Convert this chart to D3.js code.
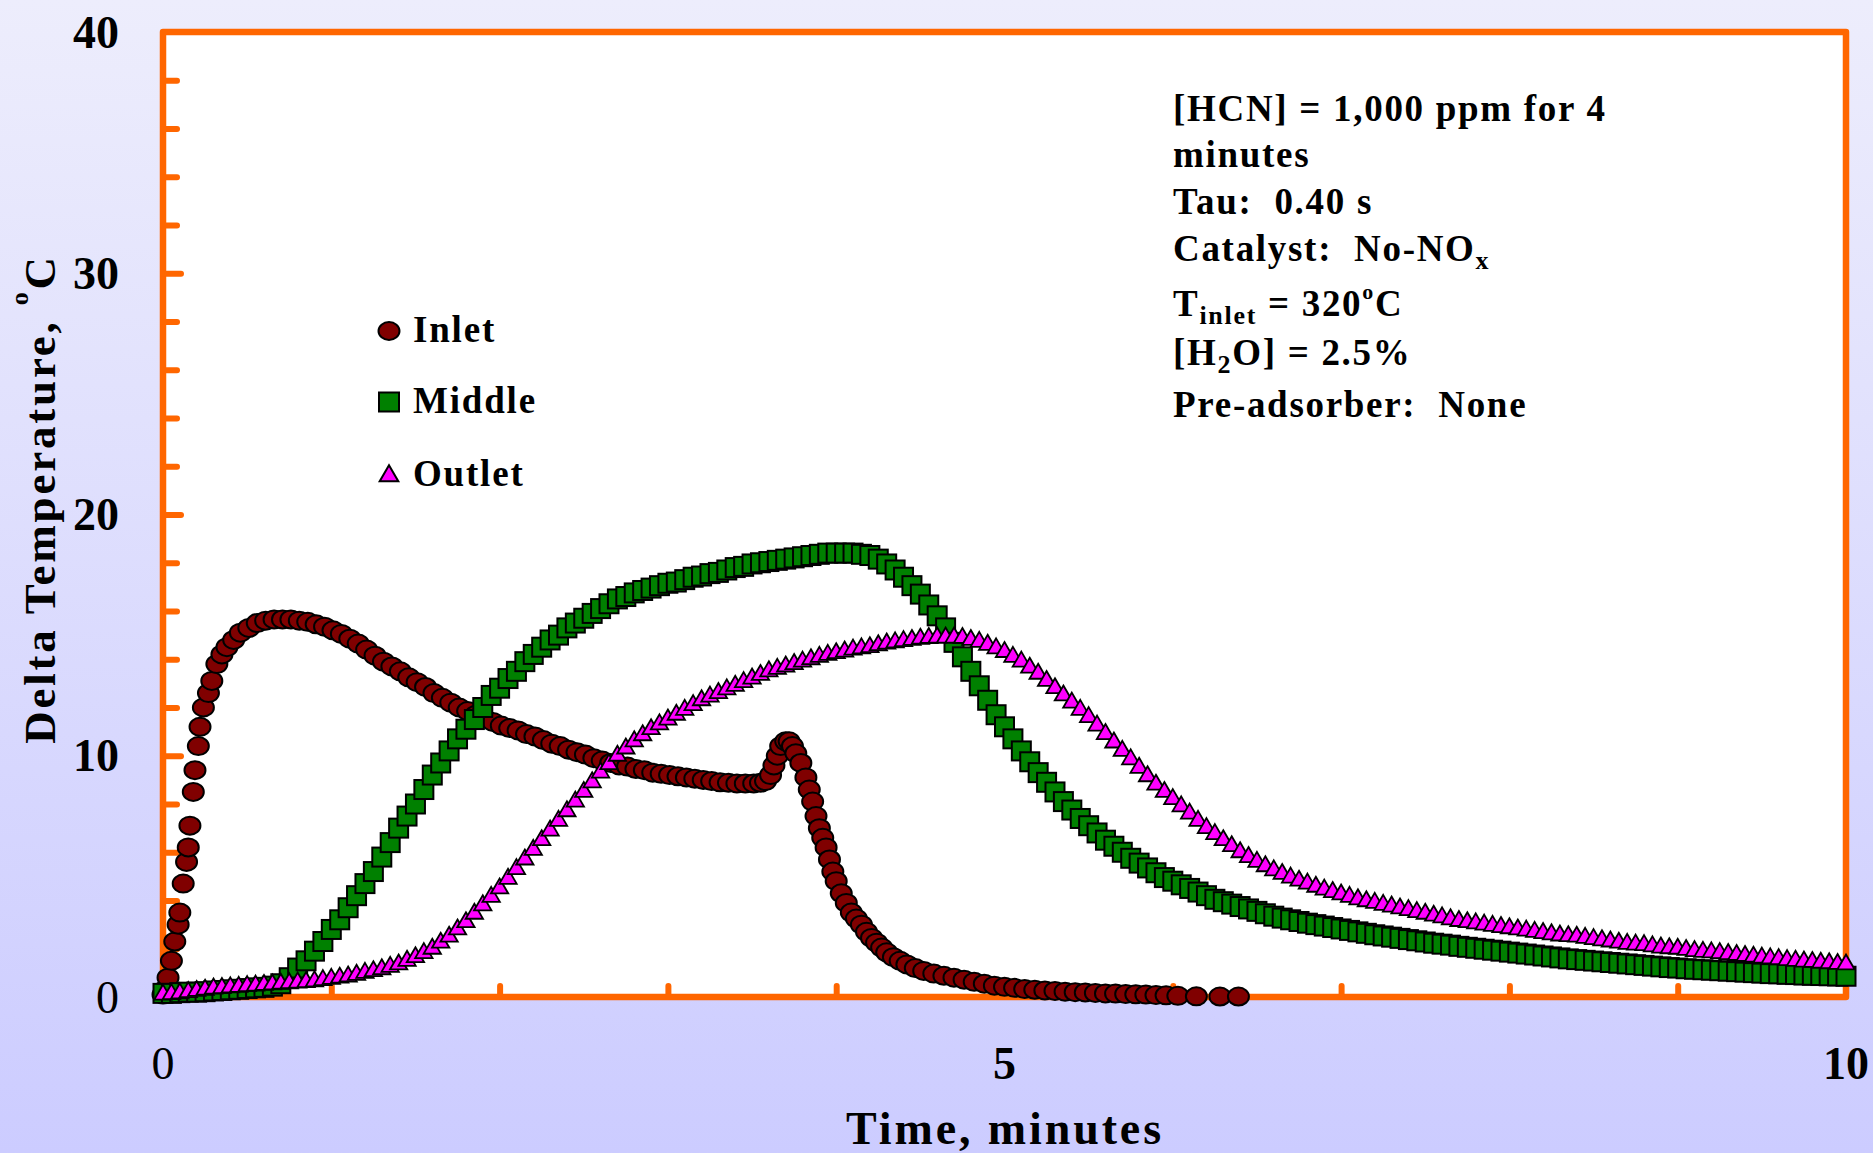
<!DOCTYPE html>
<html>
<head>
<meta charset="utf-8">
<script src="https://cdn.jsdelivr.net/npm/d3@7"></script>
<style>
  html, body { margin: 0; padding: 0; }
  svg text { font-family: "Liberation Serif", "Times New Roman", serif; font-weight: bold; fill: #000; white-space: pre; }
</style>
</head>
<body>
<svg id="chart" width="1873" height="1153"></svg>
<script>
// ---- data (minutes, delta temperature in C) ----
// middle + outlet were logged on the same 3 s grid
const gridTime = d3.range(0, 201).map(i => i / 20);

const middleTemp = [
  0.15,0.15,0.18,0.2,0.2,0.22,0.25,0.27,0.3,0.32,0.35,0.38,0.4,0.45,0.55,0.8,1.2,1.5,1.9,2.3,
  2.8,3.2,3.7,4.2,4.7,5.2,5.8,6.4,7.0,7.5,8.0,8.6,9.2,9.7,10.2,10.7,11.1,11.5,12.0,12.5,
  12.8,13.2,13.5,13.9,14.2,14.5,14.8,15.0,15.3,15.5,15.7,15.9,16.1,16.3,16.5,16.6,16.75,16.85,16.95,17.05,
  17.15,17.2,17.3,17.4,17.45,17.55,17.6,17.7,17.8,17.85,17.95,18.0,18.05,18.1,18.15,18.2,18.25,18.3,18.35,18.4,
  18.4,18.4,18.4,18.35,18.3,18.15,17.95,17.7,17.4,17.05,16.7,16.25,15.8,15.3,14.7,14.1,13.5,12.9,12.3,11.7,
  11.2,10.7,10.2,9.75,9.3,8.9,8.5,8.1,7.75,7.4,7.1,6.8,6.5,6.25,6.0,5.75,5.55,5.35,5.15,4.95,
  4.8,4.65,4.5,4.35,4.2,4.05,3.95,3.85,3.75,3.65,3.55,3.45,3.35,3.27,3.2,3.13,3.06,3.0,2.94,2.88,
  2.82,2.76,2.7,2.64,2.58,2.53,2.48,2.43,2.38,2.33,2.28,2.23,2.19,2.15,2.1,2.06,2.02,1.98,1.94,1.9,
  1.86,1.82,1.78,1.74,1.7,1.66,1.62,1.58,1.55,1.52,1.49,1.46,1.43,1.4,1.37,1.34,1.31,1.28,1.25,1.22,
  1.2,1.17,1.15,1.13,1.11,1.09,1.07,1.05,1.03,1.01,0.99,0.97,0.96,0.94,0.93,0.91,0.9,0.89,0.88,0.87,
  0.86
];

const outletTemp = [
  0.1,0.12,0.15,0.2,0.25,0.3,0.35,0.37,0.4,0.42,0.45,0.47,0.5,0.52,0.55,0.57,0.6,0.62,0.65,0.7,
  0.75,0.8,0.85,0.92,1.0,1.07,1.15,1.25,1.35,1.5,1.65,1.82,2.0,2.25,2.5,2.8,3.1,3.45,3.8,4.15,
  4.5,4.9,5.3,5.7,6.1,6.5,6.9,7.3,7.7,8.1,8.5,8.9,9.3,9.65,10.0,10.3,10.6,10.85,11.1,11.3,
  11.5,11.7,11.9,12.1,12.3,12.45,12.6,12.75,12.9,13.05,13.2,13.35,13.5,13.6,13.7,13.8,13.9,14.0,14.1,14.18,
  14.25,14.32,14.4,14.45,14.5,14.58,14.65,14.7,14.75,14.8,14.85,14.88,14.9,14.9,14.9,14.88,14.8,14.72,14.6,14.45,
  14.3,14.1,13.9,13.65,13.4,13.1,12.8,12.5,12.2,11.9,11.6,11.25,10.9,10.55,10.2,9.85,9.5,9.15,8.8,8.5,
  8.2,7.9,7.6,7.3,7.0,6.75,6.5,6.25,6.0,5.8,5.6,5.42,5.25,5.1,4.95,4.82,4.7,4.57,4.45,4.35,
  4.25,4.15,4.05,3.97,3.9,3.82,3.75,3.67,3.6,3.52,3.45,3.37,3.3,3.22,3.15,3.1,3.05,3.0,2.95,2.9,
  2.85,2.8,2.75,2.7,2.65,2.6,2.55,2.52,2.5,2.45,2.4,2.35,2.3,2.25,2.2,2.17,2.15,2.1,2.05,2.02,
  2.0,1.95,1.9,1.87,1.85,1.82,1.78,1.74,1.7,1.67,1.63,1.6,1.57,1.53,1.5,1.47,1.45,1.42,1.4,1.37,
  1.35
];

// inlet thermocouple, read where the curve bends
const inletTime = [
  0,0.01,0.03,0.05,0.07,0.09,0.10,0.12,0.14,0.15,0.16,0.18,0.19,0.21,0.22,0.24,0.27,0.29,0.32,0.35,
  0.38,0.42,0.46,0.51,0.56,0.61,0.66,0.71,0.76,0.81,0.86,0.91,0.96,1.01,1.06,1.11,1.16,1.21,1.26,1.31,
  1.36,1.41,1.46,1.51,1.56,1.61,1.66,1.71,1.76,1.81,1.86,1.91,1.96,2.01,2.06,2.11,2.16,2.21,2.26,2.31,
  2.36,2.41,2.46,2.51,2.56,2.61,2.66,2.71,2.76,2.81,2.86,2.91,2.96,3.01,3.06,3.11,3.16,3.21,3.26,3.31,
  3.36,3.41,3.46,3.51,3.55,3.58,3.61,3.63,3.65,3.67,3.70,3.72,3.74,3.76,3.79,3.82,3.84,3.86,3.88,3.90,
  3.92,3.94,3.96,3.98,4.00,4.03,4.06,4.09,4.12,4.15,4.18,4.21,4.24,4.27,4.30,4.34,4.38,4.42,4.47,4.52,
  4.58,4.64,4.70,4.76,4.82,4.88,4.94,5.00,5.06,5.12,5.18,5.24,5.30,5.36,5.42,5.48,5.54,5.60,5.66,5.72,
  5.78,5.84,5.90,5.96,6.03,6.14,6.28,6.39
];
const inletTemp = [
  0.1,0.3,0.8,1.5,2.3,3.0,3.5,4.7,5.6,6.2,7.1,8.5,9.4,10.4,11.2,12.0,12.6,13.1,13.8,14.2,
  14.5,14.8,15.1,15.3,15.5,15.6,15.65,15.65,15.65,15.6,15.55,15.45,15.35,15.2,15.05,14.85,14.65,14.4,14.15,13.9,
  13.7,13.5,13.25,13.05,12.85,12.6,12.4,12.2,12.0,11.85,11.7,11.55,11.4,11.25,11.15,11.05,10.9,10.8,10.65,10.5,
  10.4,10.25,10.15,10.05,9.9,9.8,9.7,9.6,9.55,9.45,9.4,9.3,9.25,9.2,9.15,9.1,9.05,9.0,8.95,8.9,
  8.88,8.85,8.85,8.85,8.88,8.95,9.2,9.6,10.0,10.4,10.6,10.6,10.4,10.1,9.7,9.1,8.6,8.1,7.5,7.0,
  6.6,6.2,5.7,5.2,4.8,4.3,3.9,3.5,3.25,3.0,2.7,2.45,2.25,2.05,1.85,1.65,1.5,1.35,1.2,1.08,
  0.97,0.88,0.8,0.72,0.63,0.55,0.47,0.42,0.38,0.33,0.3,0.27,0.25,0.22,0.2,0.19,0.17,0.15,0.14,0.12,
  0.11,0.1,0.08,0.07,0.05,0.03,0.02,0.02
];

const seriesNames = ["Inlet", "Middle", "Outlet"];
const xTickLabels = [0, 5, 10];
const yTickLabels = [0, 10, 20, 30, 40];
const xMinorTicks = [1, 2, 3, 4, 5, 6, 7, 8, 9];
const yMinorTicks = [2, 4, 6, 8, 12, 14, 16, 18, 22, 24, 26, 28, 32, 34, 36, 38];
const yMajorTicks = [10, 20, 30];

// text box, one entry per line: [text, "sub" | "sup" | undefined]
const noteLines = [
  [["[HCN] = 1,000 ppm for 4"]],
  [["minutes"]],
  [["Tau:  0.40 s"]],
  [["Catalyst:  No-NO"], ["x", "sub"]],
  [["T"], ["inlet", "sub"], [" = 320"], ["o", "sup"], ["C"]],
  [["[H"], ["2", "sub"], ["O] = 2.5%"]],
  [["Pre-adsorber:  None"]]
];

// ---- layout ----
const W = 1873, H = 1153;
const plotL = 163, plotR = 1846, plotT = 32, plotB = 997;
const orange = "#FF6600";

const svg = d3.select("#chart");

const x = d3.scaleLinear().domain([0, 10]).range([plotL, plotR]);
const y = d3.scaleLinear().domain([0, 40]).range([plotB, plotT]);

const defs = svg.append("defs");
const grad = defs.append("linearGradient").attr("id", "bg").attr("x1", 0).attr("y1", 0).attr("x2", 0).attr("y2", 1);
grad.append("stop").attr("offset", "0%").attr("stop-color", "#EDEDFC");
grad.append("stop").attr("offset", "100%").attr("stop-color", "#CCCCFF");

svg.append("rect").attr("width", W).attr("height", H).attr("fill", "url(#bg)");

// plot frame
svg.append("rect")
  .attr("x", plotL).attr("y", plotT)
  .attr("width", plotR - plotL).attr("height", plotB - plotT)
  .attr("fill", "#fff")
  .attr("stroke", orange).attr("stroke-width", 6.5)
  .attr("stroke-linejoin", "round");

// inward ticks
function styleTicks(g) {
  g.select(".domain").remove();
  g.selectAll(".tick line")
    .attr("stroke", orange).attr("stroke-width", 6).attr("stroke-linecap", "round");
}
svg.append("g").attr("transform", `translate(0,${plotB})`)
  .call(d3.axisBottom(x).tickValues(xMinorTicks).tickSize(-11).tickFormat(""))
  .call(styleTicks);
svg.append("g").attr("transform", `translate(${plotL},0)`)
  .call(d3.axisLeft(y).tickValues(yMinorTicks).tickSize(-14).tickFormat(""))
  .call(styleTicks);
svg.append("g").attr("transform", `translate(${plotL},0)`)
  .call(d3.axisLeft(y).tickValues(yMajorTicks).tickSize(-18).tickFormat(""))
  .call(styleTicks);

// tick labels
svg.append("g").selectAll("text").data(yTickLabels).join("text")
  .attr("x", 119).attr("y", d => y(d) + 15.5)
  .attr("text-anchor", "end").attr("font-size", 46)
  .style("font-weight", d => d === 0 ? "normal" : "bold")
  .text(d => d);
svg.append("g").selectAll("text").data(xTickLabels).join("text")
  .attr("x", d => x(d)).attr("y", 1079)
  .attr("text-anchor", "middle").attr("font-size", 46)
  .style("font-weight", d => d === 0 ? "normal" : "bold")
  .text(d => d);

// axis titles
svg.append("text")
  .attr("x", 1005).attr("y", 1144)
  .attr("text-anchor", "middle").attr("font-size", 46).attr("letter-spacing", 2.9)
  .text("Time, minutes");

const yTitle = svg.append("text")
  .attr("transform", "translate(55,499) rotate(-90)")
  .attr("text-anchor", "middle").attr("font-size", 45).attr("letter-spacing", 2.8);
yTitle.append("tspan").text("Delta Temperature, ");
yTitle.append("tspan").attr("font-size", 26).attr("dy", -27).text("o");
yTitle.append("tspan").attr("dy", 27).text("C");

// markers
const tri = d3.symbol(d3.symbolTriangle, 130)();
const triBig = d3.symbol(d3.symbolTriangle, 150)();
const sq = 19;

const inletPts = inletTime.map((t, i) => [t, inletTemp[i]]);
const middlePts = gridTime.map((t, i) => [t, middleTemp[i]]);
const outletPts = gridTime.map((t, i) => [t, outletTemp[i]]);

svg.append("g").selectAll("ellipse").data(inletPts).join("ellipse")
  .attr("cx", d => x(d[0])).attr("cy", d => y(d[1]))
  .attr("rx", 10.5).attr("ry", 9)
  .attr("fill", "#800000").attr("stroke", "#000").attr("stroke-width", 2);

svg.append("g").selectAll("rect").data(middlePts).join("rect")
  .attr("x", d => x(d[0]) - sq / 2).attr("y", d => y(d[1]) - sq / 2)
  .attr("width", sq).attr("height", sq)
  .attr("fill", "#008000").attr("stroke", "#000").attr("stroke-width", 2);

svg.append("g").selectAll("path").data(outletPts).join("path")
  .attr("transform", d => `translate(${x(d[0])},${y(d[1])})`)
  .attr("d", tri)
  .attr("fill", "#FF00FF").attr("stroke", "#000").attr("stroke-width", 1.8);

// legend
const legendY = [331, 402, 475];
const legend = svg.append("g");
legend.append("ellipse").attr("cx", 389).attr("cy", legendY[0]).attr("rx", 10.5).attr("ry", 9)
  .attr("fill", "#800000").attr("stroke", "#000").attr("stroke-width", 2);
legend.append("rect").attr("x", 389 - 10).attr("y", legendY[1] - 9.5).attr("width", 20).attr("height", 19)
  .attr("fill", "#008000").attr("stroke", "#000").attr("stroke-width", 2);
legend.append("path").attr("transform", `translate(389,${legendY[2] + 1})`).attr("d", triBig)
  .attr("fill", "#FF00FF").attr("stroke", "#000").attr("stroke-width", 2);
legend.selectAll("text").data(seriesNames).join("text")
  .attr("x", 413).attr("y", (d, i) => legendY[i] + 11)
  .attr("font-size", 37).attr("letter-spacing", 1.8)
  .text(d => d);

// conditions text box
const noteY = [121, 167, 214, 261, 316, 365, 417];
const shift = { sub: 8, sup: -17 };
const smallSize = { sub: 26, sup: 22 };
noteLines.forEach((parts, i) => {
  const t = svg.append("text").attr("x", 1173).attr("y", noteY[i])
    .attr("font-size", 37).attr("letter-spacing", 1.7);
  let cur = 0;
  parts.forEach(([str, kind]) => {
    const target = kind ? shift[kind] : 0;
    const sp = t.append("tspan").attr("dy", target - cur).text(str);
    if (kind) sp.attr("font-size", smallSize[kind]);
    cur = target;
  });
});
</script>
</body>
</html>
